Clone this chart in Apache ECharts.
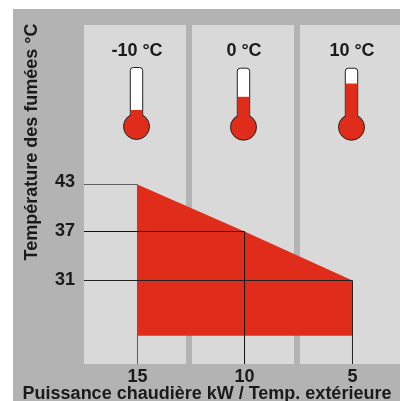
<!DOCTYPE html>
<html>
<head>
<meta charset="utf-8">
<style>html,body{margin:0;padding:0;background:#fff}#c{width:400px;height:401px}</style>
<script src="https://cdn.jsdelivr.net/npm/echarts@6/dist/echarts.min.js"></script>
</head>
<body>
<div id="c"></div>
<script>
const powerKw = [15, 10.02, 5];
const smokeTemp = [43, 37.125, 31];
const tempTicks = [43.3, 37.15, 31.1];
const areaFloorTemp = 24.1;
const outdoorLabels = ['-10 °C', '0 °C', '10 °C'];
const thermoFill = [0.28, 0.515, 0.74];
const yTitle = 'Température des fumées °C';
const xTitle = 'Puissance chaudière kW / Temp. extérieure';

const X_MIN = 2.79, X_MAX = 17.488, Y_MIN = 20.5625, Y_MAX = 62.9375;
const FONT = '"Liberation Sans", Arial, sans-serif';
const RED = '#e02d1b';
const chart = echarts.init(document.getElementById('c'), null, {renderer: 'canvas'});

const band = (x, w) => ({type: 'rect', z: -5, shape: {x, y: 25, width: w, height: 339}, style: {fill: '#d9d9d9'}});

function guide(i) {
  return {
    type: 'line', silent: true, symbol: 'none', z: 4, animation: false,
    lineStyle: {color: ['#5e5e5e', '#111', '#222'][i], width: 1},
    data: [[X_MAX, smokeTemp[i]], [powerKw[i], smokeTemp[i]], [powerKw[i], Y_MIN]]
  };
}

const option = {
  animation: false,
  backgroundColor: '#fff',
  grid: {left: 84, right: 0, top: 25, bottom: 37},
  xAxis: {
    type: 'value', inverse: true, min: X_MIN, max: X_MAX,
    axisLine: {show: false}, axisTick: {show: false}, splitLine: {show: false},
    axisLabel: {customValues: powerKw, formatter: v => String(Math.round(v)), margin: 4, color: '#1a1a1a', fontFamily: FONT, fontWeight: 'bold', fontSize: 18}
  },
  yAxis: {
    type: 'value', min: Y_MIN, max: Y_MAX,
    axisLine: {show: false}, axisTick: {show: false}, splitLine: {show: false},
    axisLabel: {customValues: tempTicks, formatter: v => String(Math.round(v)), margin: 9, color: '#1a1a1a', fontFamily: FONT, fontWeight: 'bold', fontSize: 18}
  },
  graphic: [
    {type: 'rect', z: -10, shape: {x: 13, y: 9, width: 387, height: 392}, style: {fill: '#b3b3b3'}},
    band(84, 102), band(192, 102), band(300, 100),
    {type: 'text', z: 10, x: 207, y: 394, style: {text: xTitle, fill: '#1a1a1a', font: 'bold 18px ' + FONT, align: 'center', verticalAlign: 'middle'}},
    {type: 'text', z: 10, x: 32, y: 142, rotation: Math.PI / 2, style: {text: yTitle, fill: '#1a1a1a', font: 'bold 18px ' + FONT, align: 'center', verticalAlign: 'middle'}}
  ],
  series: [
    {
      type: 'custom', silent: true, z: 3, clip: false,
      data: [0],
      renderItem(params, api) {
        const pts = powerKw.map((k, i) => api.coord([k, smokeTemp[i]]));
        pts.push(api.coord([powerKw[2], areaFloorTemp]), api.coord([powerKw[0], areaFloorTemp]));
        return {type: 'polygon', shape: {points: pts}, style: {fill: RED}};
      }
    },
    guide(0), guide(1), guide(2),
    {
      type: 'custom', silent: true, z: 5, clip: false,
      data: powerKw.map((k, i) => [k, thermoFill[i], i]),
      renderItem(params, api) {
        const i = api.value(2);
        const cx = Math.floor(api.coord([api.value(0), 0])[0]) - 0.5;
        const top = 67.5 + (i ? 0.7 : 0), by = 126.5 + (i ? 0.7 : 0);
        const level = by - (by - top) * api.value(1);
        return {
          type: 'group',
          children: [
            {type: 'text', style: {text: outdoorLabels[i], x: cx + 0.5, y: 51.5, fill: '#1a1a1a', font: 'bold 18px ' + FONT, align: 'center', verticalAlign: 'middle'}},
            {type: 'rect', shape: {x: cx - 6.2, y: top, width: 12.4, height: by - top, r: [3, 3, 0, 0]}, style: {fill: '#fff', stroke: '#222', lineWidth: 1}},
            {type: 'circle', shape: {cx, cy: by, r: 13}, style: {fill: RED, stroke: '#222', lineWidth: 1}},
            {type: 'rect', shape: {x: cx - 5.7, y: level, width: 11.4, height: by - level}, style: {fill: RED}}
          ]
        };
      }
    }
  ]
};
chart.setOption(option);
</script>
</body>
</html>
